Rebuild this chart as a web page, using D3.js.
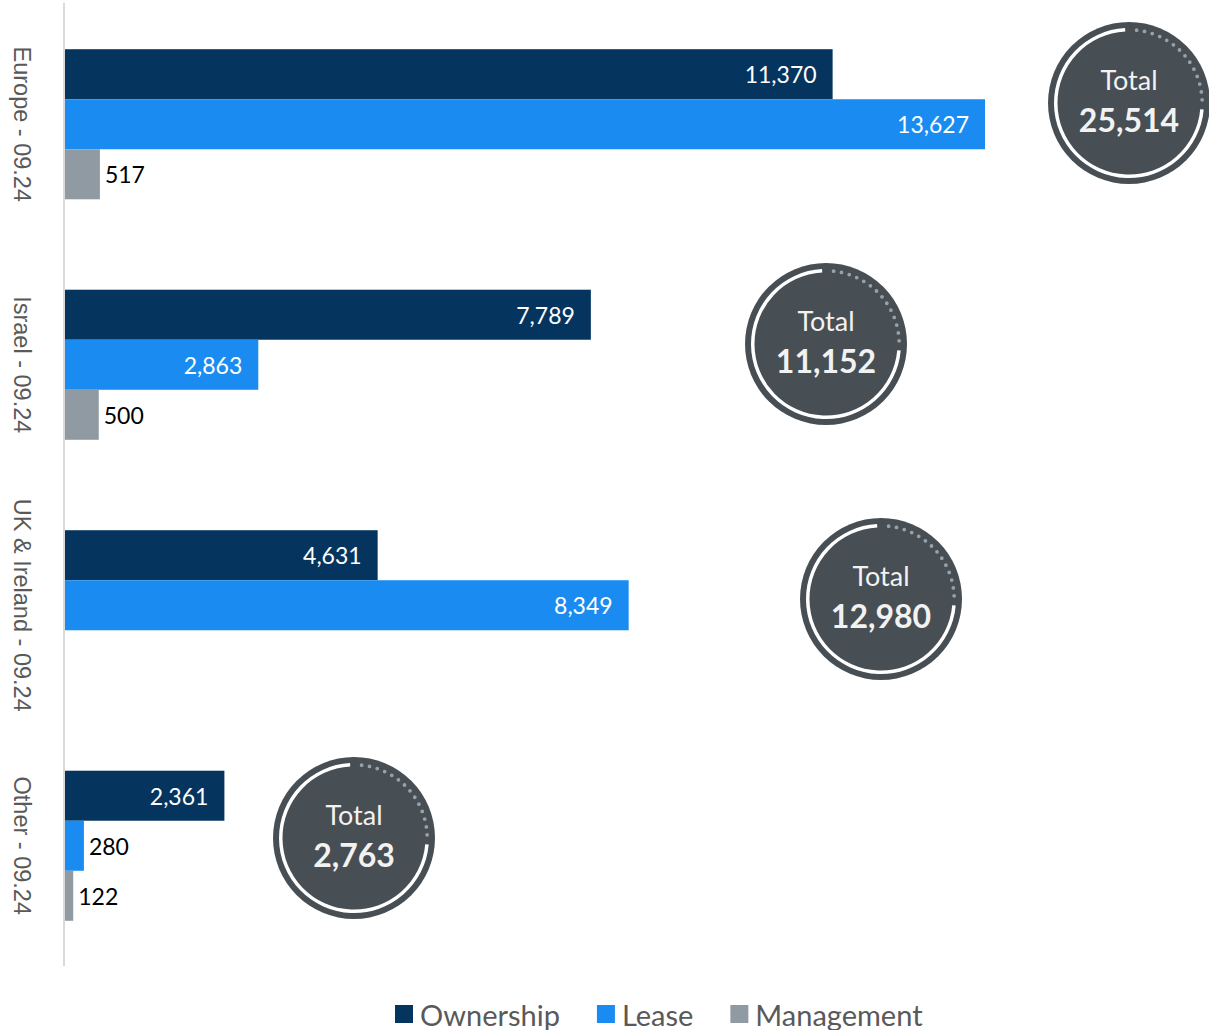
<!DOCTYPE html>
<html>
<head>
<meta charset="utf-8">
<script src="https://cdn.jsdelivr.net/npm/d3@7"></script>
<style>
  html, body { margin: 0; padding: 0; background: #ffffff; }
  svg { display: block; }
</style>
</head>
<body>
<svg id="chart" width="1209" height="1030"></svg>
<script>
// Portfolio by region (units), split by holding type
const categories = ["Europe - 09.24", "Israel - 09.24", "UK & Ireland - 09.24", "Other - 09.24"];
const seriesNames = ["Ownership", "Lease", "Management"];
const ownership  = [11370, 7789, 4631, 2361];
const lease      = [13627, 2863, 8349, 280];
const management = [517, 500, null, 122];
const totals     = [25514, 11152, 12980, 2763];

const seriesColors = ["#05355f", "#1a8cf1", "#8f9aa3"];

// Layout of the "Total" badges (pixel centres)
const badgeLayout = [
  { cx: 1129, cy: 103 },
  { cx: 826,  cy: 344 },
  { cx: 881,  cy: 599 },
  { cx: 354,  cy: 838 }
];

const svg = d3.select("#chart");
const fmt = d3.format(",");
const valueFont = "Lato, 'Open Sans', sans-serif";

const plot = { left: 65, right: 985, top: 4, bottom: 966 };
const seriesValues = [ownership, lease, management];
const maxVal = d3.max(seriesValues.flat().filter(v => v != null));

const x = d3.scaleLinear().domain([0, maxVal]).range([plot.left, plot.right]);
const y = d3.scaleBand().domain(categories).range([plot.top, plot.bottom])
  .paddingInner(0.376).paddingOuter(0.188);
const ySub = d3.scaleBand().domain(seriesNames).range([0, y.bandwidth()]);

// Category axis (vertical rule on the left)
const yAxis = d3.axisLeft(y).tickSize(0).tickFormat("");
const axisG = svg.append("g").attr("transform", `translate(${plot.left - 1},0)`).call(yAxis);
axisG.select(".domain").attr("stroke", "#d9d9d9").attr("stroke-width", 2)
  .attr("d", `M0,${plot.top - 1}V${plot.bottom}`);

// Category labels, rotated to read top-to-bottom
svg.append("g").selectAll("text")
  .data(categories)
  .join("text")
  .attr("transform", d => `translate(22,${y(d) + y.bandwidth() / 2}) rotate(90)`)
  .attr("text-anchor", "middle")
  .attr("dominant-baseline", "central")
  .attr("font-family", "'Liberation Sans', Arial, sans-serif")
  .attr("font-size", 23.5)
  .attr("fill", "#595959")
  .text(d => d);

// Flatten into bar records
const bars = [];
categories.forEach((c, i) => {
  seriesNames.forEach((s, j) => {
    const v = seriesValues[j][i];
    if (v != null) bars.push({ category: c, series: s, idx: j, value: v });
  });
});

const barG = svg.append("g");
barG.selectAll("rect")
  .data(bars)
  .join("rect")
  .attr("x", x(0))
  .attr("y", d => y(d.category) + ySub(d.series))
  .attr("width", d => x(d.value) - x(0))
  .attr("height", ySub.bandwidth())
  .attr("fill", d => seriesColors[d.idx]);

// Value labels: inside (white) for long bars, outside (black) for short ones
const insideThreshold = 2000;
barG.selectAll("text")
  .data(bars)
  .join("text")
  .attr("x", d => d.value >= insideThreshold ? x(d.value) - 16 : x(d.value) + 5)
  .attr("y", d => y(d.category) + ySub(d.series) + ySub.bandwidth() / 2)
  .attr("text-anchor", d => d.value >= insideThreshold ? "end" : "start")
  .attr("dominant-baseline", "central")
  .attr("font-family", valueFont)
  .attr("font-size", 23)
  .attr("fill", d => d.value >= insideThreshold ? "#ffffff" : "#000000")
  .text(d => fmt(d.value));

// "Total" badges
const deg = Math.PI / 180;
const ringArc = d3.arc().innerRadius(71.5).outerRadius(75)
  .startAngle(95 * deg).endAngle(357 * deg);
const dotPath = d3.path();
dotPath.arc(0, 0, 73.2, (6 - 90) * deg, (88 - 90) * deg, false);

const badges = svg.append("g").selectAll("g")
  .data(totals.map((t, i) => ({ total: t, ...badgeLayout[i] })))
  .join("g")
  .attr("transform", d => `translate(${d.cx},${d.cy})`);

badges.append("circle").attr("r", 81).attr("fill", "#474e54");
badges.append("path").attr("d", ringArc()).attr("fill", "#ffffff");
badges.append("path").attr("d", dotPath.toString())
  .attr("fill", "none")
  .attr("stroke", "#97a2ab")
  .attr("stroke-width", 3.8)
  .attr("stroke-linecap", "round")
  .attr("stroke-dasharray", "0 8");
badges.append("text")
  .attr("y", -24)
  .attr("text-anchor", "middle")
  .attr("dominant-baseline", "central")
  .attr("font-family", valueFont)
  .attr("font-size", 27)
  .attr("fill", "#f2f2f2")
  .text("Total");
badges.append("text")
  .attr("y", 16)
  .attr("text-anchor", "middle")
  .attr("dominant-baseline", "central")
  .attr("font-family", valueFont)
  .attr("font-weight", "bold")
  .attr("font-size", 32)
  .attr("fill", "#f2f2f2")
  .text(d => fmt(d.total));

// Legend
const legend = svg.append("g").attr("transform", "translate(395,1014)");
let lx = 0;
seriesNames.forEach((name, i) => {
  const g = legend.append("g").attr("transform", `translate(${lx},0)`);
  g.append("rect").attr("x", 0).attr("y", -9).attr("width", 18).attr("height", 18)
    .attr("fill", seriesColors[i]);
  const t = g.append("text")
    .attr("x", 25)
    .attr("dominant-baseline", "central")
    .attr("font-family", valueFont)
    .attr("font-size", 29)
    .attr("fill", "#595959")
    .text(name);
  lx += 25 + t.node().getComputedTextLength() + 37;
});
</script>
</body>
</html>
